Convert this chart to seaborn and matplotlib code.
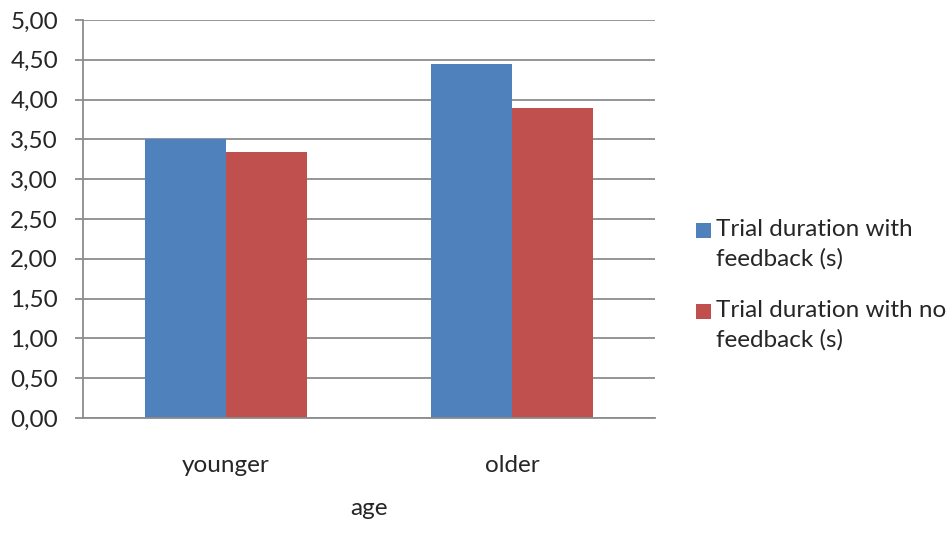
import pandas as pd
import seaborn as sns
import matplotlib.pyplot as plt
from matplotlib.patches import Patch, Rectangle
from matplotlib.legend_handler import HandlerPatch

# Values
age_groups = ["younger", "older"]
series_names = ["Trial duration with\nfeedback (s)", "Trial duration with no\nfeedback (s)"]
with_feedback = [3.50, 4.45]
no_feedback = [3.345, 3.89]
y_ticks = [0.0, 0.5, 1.0, 1.5, 2.0, 2.5, 3.0, 3.5, 4.0, 4.5, 5.0]

colors = ["#4F81BD", "#C0504D"]

df = pd.DataFrame({
    "age": age_groups * 2,
    "series": [series_names[0]] * 2 + [series_names[1]] * 2,
    "value": with_feedback + no_feedback,
})

sns.set_style("white")
plt.rcParams["font.family"] = ["Lato", "DejaVu Sans"]
FS = 17.5

fig = plt.figure(figsize=(9.53, 5.48), dpi=100)
ax = fig.add_axes([83 / 953, 1 - 418 / 548, 572 / 953, 398 / 548])

sns.barplot(
    data=df, x="age", y="value", hue="series",
    palette=colors, width=0.568, saturation=1, ax=ax,
    edgecolor="none", linewidth=0, legend=False,
)

ax.set_xlim(-0.5, 1.5)
ax.set_ylim(0, 5)
ax.set_yticks(y_ticks)
ax.set_yticklabels([f"{v:.2f}".replace(".", ",") for v in y_ticks])
ax.yaxis.grid(True, color="#8C8C8C", linewidth=1.3)
ax.set_axisbelow(True)

for side in ["top", "right"]:
    ax.spines[side].set_visible(False)
for side in ["left", "bottom"]:
    ax.spines[side].set_color("#8C8C8C")
    ax.spines[side].set_linewidth(1.3)

ax.tick_params(axis="y", left=True, length=6, width=1.3, color="#8C8C8C",
               labelsize=FS, pad=12)
ax.tick_params(axis="x", bottom=False, labelsize=FS, pad=23)
ax.set_ylabel("")
ax.set_xlabel("age", fontsize=FS, labelpad=16)


# small square next to the first line of a two-line label
def top_square(legend, orig_handle, xdescent, ydescent, width, height, fontsize):
    s = 0.62 * fontsize
    return Rectangle((-xdescent, 0.93 * fontsize - s / 2), s, s)


handles = [Patch(facecolor=c, edgecolor="none") for c in colors]
leg = fig.legend(handles, series_names, loc="center left",
                 bbox_to_anchor=(674 / 953, 1 - 285 / 548), frameon=False,
                 fontsize=FS, handlelength=0.62, handleheight=2.0,
                 handletextpad=0.2, labelspacing=1.25,
                 handler_map={Patch: HandlerPatch(patch_func=top_square)})
for t in leg.get_texts():
    t.set_linespacing(1.45)

plt.savefig("out.png", dpi=100)
